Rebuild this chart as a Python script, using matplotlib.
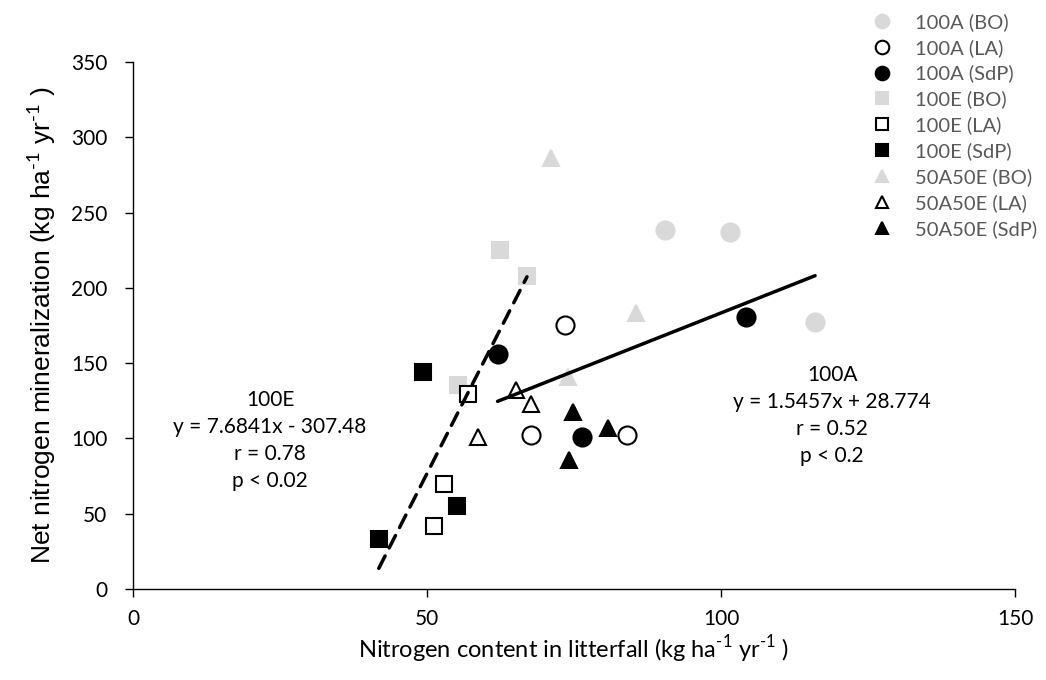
import matplotlib
matplotlib.use("Agg")
import matplotlib.pyplot as plt

plt.rcParams["font.family"] = ["Lato", "DejaVu Sans"]
plt.rcParams["mathtext.fontset"] = "custom"
plt.rcParams["mathtext.rm"] = "Lato"

# ── data ───────────────────────────────────────────────────────
sites = ["BO", "LA", "SdP"]
treatments = ["100A", "100E", "50A50E"]

x_100A = {"BO": [90.5, 101.5, 116.0], "LA": [73.5, 67.7, 84.0], "SdP": [62.0, 76.4, 104.3]}
y_100A = {"BO": [238.4, 237.0, 177.3], "LA": [175.3, 102.3, 102.3], "SdP": [156.0, 101.0, 180.6]}

x_100E = {"BO": [62.4, 67.0, 55.3], "LA": [57.0, 52.9, 51.2], "SdP": [49.3, 55.1, 41.8]}
y_100E = {"BO": [225.1, 207.8, 135.5], "LA": [129.5, 69.7, 41.8], "SdP": [144.1, 55.1, 33.2]}

x_50A50E = {"BO": [71.1, 85.5, 74.0], "LA": [65.1, 67.7, 58.7], "SdP": [74.8, 80.8, 74.1]}
y_50A50E = {"BO": [286.2, 183.3, 140.8], "LA": [132.1, 122.8, 101.0], "SdP": [117.5, 106.9, 85.7]}

# regression (slope, intercept) as printed on the chart
fit_100A = (1.5457, 28.774)
fit_100E = (7.6841, -307.48)

x_ticks = [0, 50, 100, 150]
y_ticks = [0, 50, 100, 150, 200, 250, 300, 350]

# ── styles ─────────────────────────────────────────────────────
LIGHT = "#D9D9D9"
site_style = {
    "BO": dict(mfc=LIGHT, mec=LIGHT),
    "LA": dict(mfc="white", mec="black"),
    "SdP": dict(mfc="black", mec="black"),
}
marker_of = {"100A": ("o", 13), "100E": ("s", 12), "50A50E": ("^", 12)}
data_of = {"100A": (x_100A, y_100A), "100E": (x_100E, y_100E), "50A50E": (x_50A50E, y_50A50E)}

W, H = 1046, 680
fig = plt.figure(figsize=(W / 100, H / 100), dpi=100)
ax = fig.add_axes([133 / W, 1 - 589 / H, (1015 - 133) / W, (589 - 62) / H])

handles = []
for tr in treatments:
    xs, ys = data_of[tr]
    mk, ms = marker_of[tr]
    for s in sites:
        ln, = ax.plot(xs[s], ys[s], linestyle="none", marker=mk, markersize=ms,
                      markeredgewidth=1.5, zorder=3, label=f"{tr} ({s})", **site_style[s])
        handles.append(ln)

# trend lines across each group's x range
for tr, (a, b), ls in [("100A", fit_100A, "-"), ("100E", fit_100E, (0, (4, 2.6)))]:
    xs, _ = data_of[tr]
    allx = [v for s in sites for v in xs[s]]
    x0, x1 = min(allx), max(allx)
    ax.plot([x0, x1], [a * x0 + b, a * x1 + b], color="black", lw=2.5,
            linestyle=ls, zorder=4, solid_capstyle="round", dash_capstyle="round")

ax.set_xlim(0, 150)
ax.set_ylim(0, 350)
ax.set_xticks(x_ticks)
ax.set_yticks(y_ticks)
for sp in ["top", "right"]:
    ax.spines[sp].set_visible(False)
for sp in ["left", "bottom"]:
    ax.spines[sp].set_linewidth(1.0)
    ax.spines[sp].set_color("black")
ax.tick_params(axis="both", direction="out", length=5.5, width=1.0, labelsize=15, colors="black")
ax.tick_params(axis="y", pad=13)
ax.tick_params(axis="x", pad=9)

unit = r"(kg ha$^{\text{-1}}$ yr$^{\text{-1}}$ )"
ax.set_xlabel("Nitrogen content in litterfall " + unit, fontsize=17, labelpad=3)
ax.set_ylabel("Net nitrogen mineralization " + unit,
              fontsize=19, family=["Liberation Sans", "DejaVu Sans"], labelpad=9)

ax.text(23.3, 98.6, "100E\ny = 7.6841x - 307.48\nr = 0.78\np < 0.02",
        ha="center", va="center", fontsize=15, linespacing=1.45)
ax.text(118.9, 115.2, "100A\ny = 1.5457x + 28.774\nr = 0.52\np < 0.2",
        ha="center", va="center", fontsize=15, linespacing=1.45)

ax.legend(handles=handles, loc="upper left", bbox_to_anchor=(870 / W, 1 - 13 / H),
          bbox_transform=fig.transFigure, frameon=False, fontsize=14.5, labelcolor="#595959",
          handlelength=1.2, handletextpad=1.05, labelspacing=0.395, borderpad=0,
          borderaxespad=0, markerscale=0.75)

fig.savefig("out.png", dpi=100, facecolor="white")
